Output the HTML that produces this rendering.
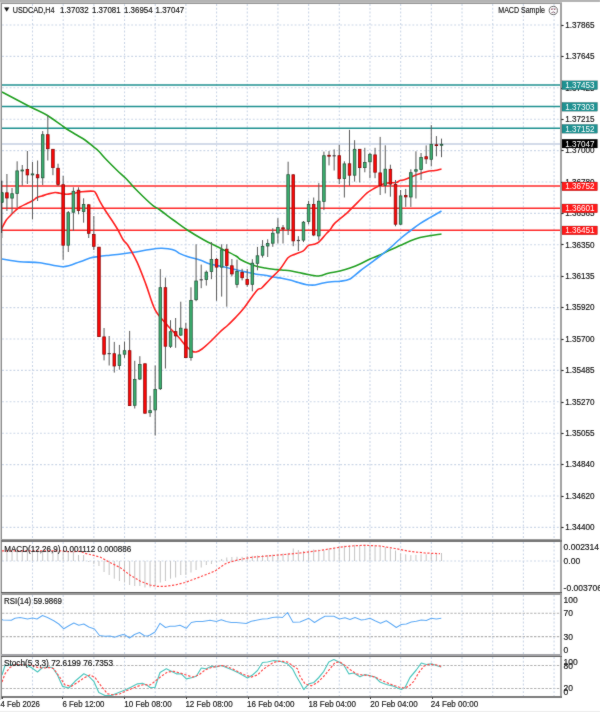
<!DOCTYPE html>
<html><head><meta charset="utf-8"><title>USDCAD,H4</title>
<style>html,body{margin:0;padding:0;background:#fff;width:600px;height:712px;overflow:hidden}</style>
</head><body>
<svg width="600" height="712" viewBox="0 0 600 712" style="display:block">
<rect x="0" y="0" width="600" height="712" fill="#ffffff"/>
<defs><filter id="soft" x="0" y="0" width="100%" height="100%" color-interpolation-filters="sRGB"><feConvolveMatrix order="3" kernelMatrix="0.0233 0.0467 0.0233 0.0467 0.7200 0.0467 0.0233 0.0467 0.0233" divisor="1" edgeMode="duplicate"/></filter></defs>
<g filter="url(#soft)">
<rect x="0" y="0" width="600" height="712" fill="#ffffff"/>
<g>
<line x1="2" y1="25.0" x2="561" y2="25.0" stroke="#cbd6e7" stroke-width="1.1" stroke-dasharray="1.9 1.9"/>
<line x1="2" y1="56.4" x2="561" y2="56.4" stroke="#cbd6e7" stroke-width="1.1" stroke-dasharray="1.9 1.9"/>
<line x1="2" y1="87.8" x2="561" y2="87.8" stroke="#cbd6e7" stroke-width="1.1" stroke-dasharray="1.9 1.9"/>
<line x1="2" y1="119.2" x2="561" y2="119.2" stroke="#cbd6e7" stroke-width="1.1" stroke-dasharray="1.9 1.9"/>
<line x1="2" y1="150.60000000000002" x2="561" y2="150.60000000000002" stroke="#cbd6e7" stroke-width="1.1" stroke-dasharray="1.9 1.9"/>
<line x1="2" y1="182.0" x2="561" y2="182.0" stroke="#cbd6e7" stroke-width="1.1" stroke-dasharray="1.9 1.9"/>
<line x1="2" y1="213.4" x2="561" y2="213.4" stroke="#cbd6e7" stroke-width="1.1" stroke-dasharray="1.9 1.9"/>
<line x1="2" y1="244.8" x2="561" y2="244.8" stroke="#cbd6e7" stroke-width="1.1" stroke-dasharray="1.9 1.9"/>
<line x1="2" y1="276.2" x2="561" y2="276.2" stroke="#cbd6e7" stroke-width="1.1" stroke-dasharray="1.9 1.9"/>
<line x1="2" y1="307.6" x2="561" y2="307.6" stroke="#cbd6e7" stroke-width="1.1" stroke-dasharray="1.9 1.9"/>
<line x1="2" y1="339.0" x2="561" y2="339.0" stroke="#cbd6e7" stroke-width="1.1" stroke-dasharray="1.9 1.9"/>
<line x1="2" y1="370.40000000000003" x2="561" y2="370.40000000000003" stroke="#cbd6e7" stroke-width="1.1" stroke-dasharray="1.9 1.9"/>
<line x1="2" y1="401.8" x2="561" y2="401.8" stroke="#cbd6e7" stroke-width="1.1" stroke-dasharray="1.9 1.9"/>
<line x1="2" y1="433.2" x2="561" y2="433.2" stroke="#cbd6e7" stroke-width="1.1" stroke-dasharray="1.9 1.9"/>
<line x1="2" y1="464.6" x2="561" y2="464.6" stroke="#cbd6e7" stroke-width="1.1" stroke-dasharray="1.9 1.9"/>
<line x1="2" y1="496.0" x2="561" y2="496.0" stroke="#cbd6e7" stroke-width="1.1" stroke-dasharray="1.9 1.9"/>
<line x1="2" y1="527.4" x2="561" y2="527.4" stroke="#cbd6e7" stroke-width="1.1" stroke-dasharray="1.9 1.9"/>
<line x1="2" y1="561" x2="561" y2="561" stroke="#cbd6e7" stroke-width="1.1" stroke-dasharray="1.9 1.9"/>
<line x1="2" y1="613.2" x2="561" y2="613.2" stroke="#b2b2b2" stroke-width="1.1" stroke-dasharray="2.4 1.4"/>
<line x1="2" y1="636.6" x2="561" y2="636.6" stroke="#b2b2b2" stroke-width="1.1" stroke-dasharray="2.4 1.4"/>
<line x1="2" y1="665.5" x2="561" y2="665.5" stroke="#b2b2b2" stroke-width="1.1" stroke-dasharray="2.4 1.4"/>
<line x1="2" y1="688.5" x2="561" y2="688.5" stroke="#b2b2b2" stroke-width="1.1" stroke-dasharray="2.4 1.4"/>
<line x1="32.5" y1="4" x2="32.5" y2="539" stroke="#cbd6e7" stroke-width="1.1" stroke-dasharray="1.9 1.9"/>
<line x1="32.5" y1="542" x2="32.5" y2="591" stroke="#cbd6e7" stroke-width="1.1" stroke-dasharray="1.9 1.9"/>
<line x1="32.5" y1="595" x2="32.5" y2="654" stroke="#cbd6e7" stroke-width="1.1" stroke-dasharray="1.9 1.9"/>
<line x1="32.5" y1="657" x2="32.5" y2="696" stroke="#cbd6e7" stroke-width="1.1" stroke-dasharray="1.9 1.9"/>
<line x1="63.18" y1="4" x2="63.18" y2="539" stroke="#cbd6e7" stroke-width="1.1" stroke-dasharray="1.9 1.9"/>
<line x1="63.18" y1="542" x2="63.18" y2="591" stroke="#cbd6e7" stroke-width="1.1" stroke-dasharray="1.9 1.9"/>
<line x1="63.18" y1="595" x2="63.18" y2="654" stroke="#cbd6e7" stroke-width="1.1" stroke-dasharray="1.9 1.9"/>
<line x1="63.18" y1="657" x2="63.18" y2="696" stroke="#cbd6e7" stroke-width="1.1" stroke-dasharray="1.9 1.9"/>
<line x1="93.86" y1="4" x2="93.86" y2="539" stroke="#cbd6e7" stroke-width="1.1" stroke-dasharray="1.9 1.9"/>
<line x1="93.86" y1="542" x2="93.86" y2="591" stroke="#cbd6e7" stroke-width="1.1" stroke-dasharray="1.9 1.9"/>
<line x1="93.86" y1="595" x2="93.86" y2="654" stroke="#cbd6e7" stroke-width="1.1" stroke-dasharray="1.9 1.9"/>
<line x1="93.86" y1="657" x2="93.86" y2="696" stroke="#cbd6e7" stroke-width="1.1" stroke-dasharray="1.9 1.9"/>
<line x1="124.53999999999999" y1="4" x2="124.53999999999999" y2="539" stroke="#cbd6e7" stroke-width="1.1" stroke-dasharray="1.9 1.9"/>
<line x1="124.53999999999999" y1="542" x2="124.53999999999999" y2="591" stroke="#cbd6e7" stroke-width="1.1" stroke-dasharray="1.9 1.9"/>
<line x1="124.53999999999999" y1="595" x2="124.53999999999999" y2="654" stroke="#cbd6e7" stroke-width="1.1" stroke-dasharray="1.9 1.9"/>
<line x1="124.53999999999999" y1="657" x2="124.53999999999999" y2="696" stroke="#cbd6e7" stroke-width="1.1" stroke-dasharray="1.9 1.9"/>
<line x1="155.22" y1="4" x2="155.22" y2="539" stroke="#cbd6e7" stroke-width="1.1" stroke-dasharray="1.9 1.9"/>
<line x1="155.22" y1="542" x2="155.22" y2="591" stroke="#cbd6e7" stroke-width="1.1" stroke-dasharray="1.9 1.9"/>
<line x1="155.22" y1="595" x2="155.22" y2="654" stroke="#cbd6e7" stroke-width="1.1" stroke-dasharray="1.9 1.9"/>
<line x1="155.22" y1="657" x2="155.22" y2="696" stroke="#cbd6e7" stroke-width="1.1" stroke-dasharray="1.9 1.9"/>
<line x1="185.9" y1="4" x2="185.9" y2="539" stroke="#cbd6e7" stroke-width="1.1" stroke-dasharray="1.9 1.9"/>
<line x1="185.9" y1="542" x2="185.9" y2="591" stroke="#cbd6e7" stroke-width="1.1" stroke-dasharray="1.9 1.9"/>
<line x1="185.9" y1="595" x2="185.9" y2="654" stroke="#cbd6e7" stroke-width="1.1" stroke-dasharray="1.9 1.9"/>
<line x1="185.9" y1="657" x2="185.9" y2="696" stroke="#cbd6e7" stroke-width="1.1" stroke-dasharray="1.9 1.9"/>
<line x1="216.57999999999998" y1="4" x2="216.57999999999998" y2="539" stroke="#cbd6e7" stroke-width="1.1" stroke-dasharray="1.9 1.9"/>
<line x1="216.57999999999998" y1="542" x2="216.57999999999998" y2="591" stroke="#cbd6e7" stroke-width="1.1" stroke-dasharray="1.9 1.9"/>
<line x1="216.57999999999998" y1="595" x2="216.57999999999998" y2="654" stroke="#cbd6e7" stroke-width="1.1" stroke-dasharray="1.9 1.9"/>
<line x1="216.57999999999998" y1="657" x2="216.57999999999998" y2="696" stroke="#cbd6e7" stroke-width="1.1" stroke-dasharray="1.9 1.9"/>
<line x1="247.26" y1="4" x2="247.26" y2="539" stroke="#cbd6e7" stroke-width="1.1" stroke-dasharray="1.9 1.9"/>
<line x1="247.26" y1="542" x2="247.26" y2="591" stroke="#cbd6e7" stroke-width="1.1" stroke-dasharray="1.9 1.9"/>
<line x1="247.26" y1="595" x2="247.26" y2="654" stroke="#cbd6e7" stroke-width="1.1" stroke-dasharray="1.9 1.9"/>
<line x1="247.26" y1="657" x2="247.26" y2="696" stroke="#cbd6e7" stroke-width="1.1" stroke-dasharray="1.9 1.9"/>
<line x1="277.94" y1="4" x2="277.94" y2="539" stroke="#cbd6e7" stroke-width="1.1" stroke-dasharray="1.9 1.9"/>
<line x1="277.94" y1="542" x2="277.94" y2="591" stroke="#cbd6e7" stroke-width="1.1" stroke-dasharray="1.9 1.9"/>
<line x1="277.94" y1="595" x2="277.94" y2="654" stroke="#cbd6e7" stroke-width="1.1" stroke-dasharray="1.9 1.9"/>
<line x1="277.94" y1="657" x2="277.94" y2="696" stroke="#cbd6e7" stroke-width="1.1" stroke-dasharray="1.9 1.9"/>
<line x1="308.62" y1="4" x2="308.62" y2="539" stroke="#cbd6e7" stroke-width="1.1" stroke-dasharray="1.9 1.9"/>
<line x1="308.62" y1="542" x2="308.62" y2="591" stroke="#cbd6e7" stroke-width="1.1" stroke-dasharray="1.9 1.9"/>
<line x1="308.62" y1="595" x2="308.62" y2="654" stroke="#cbd6e7" stroke-width="1.1" stroke-dasharray="1.9 1.9"/>
<line x1="308.62" y1="657" x2="308.62" y2="696" stroke="#cbd6e7" stroke-width="1.1" stroke-dasharray="1.9 1.9"/>
<line x1="339.3" y1="4" x2="339.3" y2="539" stroke="#cbd6e7" stroke-width="1.1" stroke-dasharray="1.9 1.9"/>
<line x1="339.3" y1="542" x2="339.3" y2="591" stroke="#cbd6e7" stroke-width="1.1" stroke-dasharray="1.9 1.9"/>
<line x1="339.3" y1="595" x2="339.3" y2="654" stroke="#cbd6e7" stroke-width="1.1" stroke-dasharray="1.9 1.9"/>
<line x1="339.3" y1="657" x2="339.3" y2="696" stroke="#cbd6e7" stroke-width="1.1" stroke-dasharray="1.9 1.9"/>
<line x1="369.98" y1="4" x2="369.98" y2="539" stroke="#cbd6e7" stroke-width="1.1" stroke-dasharray="1.9 1.9"/>
<line x1="369.98" y1="542" x2="369.98" y2="591" stroke="#cbd6e7" stroke-width="1.1" stroke-dasharray="1.9 1.9"/>
<line x1="369.98" y1="595" x2="369.98" y2="654" stroke="#cbd6e7" stroke-width="1.1" stroke-dasharray="1.9 1.9"/>
<line x1="369.98" y1="657" x2="369.98" y2="696" stroke="#cbd6e7" stroke-width="1.1" stroke-dasharray="1.9 1.9"/>
<line x1="400.65999999999997" y1="4" x2="400.65999999999997" y2="539" stroke="#cbd6e7" stroke-width="1.1" stroke-dasharray="1.9 1.9"/>
<line x1="400.65999999999997" y1="542" x2="400.65999999999997" y2="591" stroke="#cbd6e7" stroke-width="1.1" stroke-dasharray="1.9 1.9"/>
<line x1="400.65999999999997" y1="595" x2="400.65999999999997" y2="654" stroke="#cbd6e7" stroke-width="1.1" stroke-dasharray="1.9 1.9"/>
<line x1="400.65999999999997" y1="657" x2="400.65999999999997" y2="696" stroke="#cbd6e7" stroke-width="1.1" stroke-dasharray="1.9 1.9"/>
<line x1="431.34" y1="4" x2="431.34" y2="539" stroke="#cbd6e7" stroke-width="1.1" stroke-dasharray="1.9 1.9"/>
<line x1="431.34" y1="542" x2="431.34" y2="591" stroke="#cbd6e7" stroke-width="1.1" stroke-dasharray="1.9 1.9"/>
<line x1="431.34" y1="595" x2="431.34" y2="654" stroke="#cbd6e7" stroke-width="1.1" stroke-dasharray="1.9 1.9"/>
<line x1="431.34" y1="657" x2="431.34" y2="696" stroke="#cbd6e7" stroke-width="1.1" stroke-dasharray="1.9 1.9"/>
<line x1="462.02" y1="4" x2="462.02" y2="539" stroke="#cbd6e7" stroke-width="1.1" stroke-dasharray="1.9 1.9"/>
<line x1="462.02" y1="542" x2="462.02" y2="591" stroke="#cbd6e7" stroke-width="1.1" stroke-dasharray="1.9 1.9"/>
<line x1="462.02" y1="595" x2="462.02" y2="654" stroke="#cbd6e7" stroke-width="1.1" stroke-dasharray="1.9 1.9"/>
<line x1="462.02" y1="657" x2="462.02" y2="696" stroke="#cbd6e7" stroke-width="1.1" stroke-dasharray="1.9 1.9"/>
<line x1="492.7" y1="4" x2="492.7" y2="539" stroke="#cbd6e7" stroke-width="1.1" stroke-dasharray="1.9 1.9"/>
<line x1="492.7" y1="542" x2="492.7" y2="591" stroke="#cbd6e7" stroke-width="1.1" stroke-dasharray="1.9 1.9"/>
<line x1="492.7" y1="595" x2="492.7" y2="654" stroke="#cbd6e7" stroke-width="1.1" stroke-dasharray="1.9 1.9"/>
<line x1="492.7" y1="657" x2="492.7" y2="696" stroke="#cbd6e7" stroke-width="1.1" stroke-dasharray="1.9 1.9"/>
<line x1="523.38" y1="4" x2="523.38" y2="539" stroke="#cbd6e7" stroke-width="1.1" stroke-dasharray="1.9 1.9"/>
<line x1="523.38" y1="542" x2="523.38" y2="591" stroke="#cbd6e7" stroke-width="1.1" stroke-dasharray="1.9 1.9"/>
<line x1="523.38" y1="595" x2="523.38" y2="654" stroke="#cbd6e7" stroke-width="1.1" stroke-dasharray="1.9 1.9"/>
<line x1="523.38" y1="657" x2="523.38" y2="696" stroke="#cbd6e7" stroke-width="1.1" stroke-dasharray="1.9 1.9"/>
<line x1="554.06" y1="4" x2="554.06" y2="539" stroke="#cbd6e7" stroke-width="1.1" stroke-dasharray="1.9 1.9"/>
<line x1="554.06" y1="542" x2="554.06" y2="591" stroke="#cbd6e7" stroke-width="1.1" stroke-dasharray="1.9 1.9"/>
<line x1="554.06" y1="595" x2="554.06" y2="654" stroke="#cbd6e7" stroke-width="1.1" stroke-dasharray="1.9 1.9"/>
<line x1="554.06" y1="657" x2="554.06" y2="696" stroke="#cbd6e7" stroke-width="1.1" stroke-dasharray="1.9 1.9"/>
</g>
<line x1="2" y1="144" x2="561" y2="144" stroke="#d3dbe9" stroke-width="2"/>
<line x1="2" y1="85" x2="561" y2="85" stroke="#1f9191" stroke-width="1.6"/>
<line x1="2" y1="106.5" x2="561" y2="106.5" stroke="#1f9191" stroke-width="1.6"/>
<line x1="2" y1="128.3" x2="561" y2="128.3" stroke="#1f9191" stroke-width="1.6"/>
<line x1="2" y1="186" x2="561" y2="186" stroke="#ff2a2a" stroke-width="1.6"/>
<line x1="2" y1="208.2" x2="561" y2="208.2" stroke="#ff2a2a" stroke-width="1.6"/>
<line x1="2" y1="230.2" x2="561" y2="230.2" stroke="#ff2a2a" stroke-width="1.6"/>
<path d="M2.0,92.0 C6.7,94.5 22.6,102.9 30.0,106.7 C37.5,110.5 41.7,112.1 46.7,115.0 C51.7,117.9 56.4,121.7 60.0,124.2 C63.6,126.7 65.5,128.2 68.3,130.0 C71.1,131.8 73.9,133.3 76.7,135.0 C79.5,136.7 82.2,138.1 85.0,140.0 C87.8,141.9 91.1,144.9 93.3,146.7 C95.5,148.5 96.1,148.6 98.3,150.8 C100.5,153.0 103.6,156.8 106.7,160.0 C109.8,163.2 113.4,166.8 116.7,170.0 C120.0,173.2 123.9,176.4 126.7,179.2 C129.5,182.0 130.5,183.8 133.3,186.7 C136.1,189.6 140.0,193.5 143.3,196.7 C146.6,199.9 150.5,203.6 153.3,205.8 C156.1,208.0 156.7,207.6 160.0,210.0 C163.3,212.4 168.8,216.7 173.3,220.0 C177.9,223.3 182.2,226.7 187.3,230.0 C192.4,233.3 198.6,237.0 204.0,240.0 C209.4,243.0 214.7,245.3 220.0,248.0 C225.3,250.7 232.7,254.1 236.0,256.0 C239.3,257.9 237.9,258.0 240.0,259.2 C242.1,260.4 245.5,262.1 248.3,263.3 C251.1,264.5 253.9,265.5 256.7,266.3 C259.5,267.1 262.2,267.5 265.0,268.0 C267.8,268.5 270.5,268.9 273.3,269.2 C276.1,269.5 278.9,269.7 281.7,270.0 C284.5,270.3 287.2,270.4 290.0,270.8 C292.8,271.2 295.5,271.9 298.3,272.5 C301.1,273.1 303.9,273.6 306.7,274.2 C309.5,274.8 312.8,275.5 315.0,275.8 C317.2,276.1 317.8,276.2 320.0,275.8 C322.2,275.4 325.0,274.1 328.3,273.3 C331.6,272.5 336.4,271.9 340.0,271.0 C343.6,270.1 346.7,269.2 350.0,268.0 C353.3,266.8 356.7,265.5 360.0,264.0 C363.3,262.5 366.7,260.5 370.0,259.0 C373.3,257.5 376.7,256.5 380.0,255.0 C383.3,253.5 386.7,251.6 390.0,250.0 C393.3,248.4 396.7,247.1 400.0,245.6 C403.3,244.1 406.7,242.3 410.0,241.0 C413.3,239.7 416.7,238.5 420.0,237.6 C423.3,236.7 426.4,236.2 430.0,235.6 C433.6,235.0 439.6,234.3 441.5,234.0" fill="none" stroke="#23a023" stroke-width="1.6" stroke-linejoin="round"/>
<path d="M2.0,259.0 C5.0,259.4 13.7,261.1 20.0,261.7 C26.3,262.3 32.8,261.9 40.0,262.7 C47.2,263.5 56.6,266.9 63.3,266.7 C70.0,266.5 75.5,263.1 80.0,261.7 C84.5,260.2 86.9,258.9 90.0,258.0 C93.1,257.1 95.5,257.0 98.8,256.5 C102.1,256.0 106.5,255.6 110.0,255.2 C113.5,254.8 116.2,254.6 119.5,254.2 C122.8,253.8 126.6,253.3 130.0,252.8 C133.4,252.3 136.8,251.8 140.1,251.2 C143.4,250.6 146.6,250.0 150.0,249.5 C153.4,249.0 157.8,248.4 160.8,248.3 C163.8,248.2 165.6,248.4 168.0,248.8 C170.4,249.2 173.0,249.7 175.0,250.5 C177.0,251.3 177.9,252.6 180.0,253.6 C182.1,254.6 184.0,255.4 187.3,256.5 C190.6,257.6 196.2,258.8 200.0,260.0 C203.8,261.2 206.0,262.8 210.0,264.0 C214.0,265.2 219.0,265.9 224.0,267.0 C229.0,268.1 235.9,269.9 240.0,270.8 C244.1,271.7 245.5,271.9 248.3,272.5 C251.1,273.1 253.9,273.7 256.7,274.2 C259.5,274.7 262.2,274.8 265.0,275.3 C267.8,275.8 270.5,276.5 273.3,277.0 C276.1,277.5 278.9,277.8 281.7,278.3 C284.5,278.8 287.2,279.3 290.0,280.0 C292.8,280.7 295.5,281.7 298.3,282.5 C301.1,283.3 303.9,284.3 306.7,284.7 C309.5,285.1 312.2,285.3 315.0,285.0 C317.8,284.7 320.5,283.6 323.3,283.0 C326.1,282.4 328.9,282.0 331.7,281.7 C334.5,281.4 336.9,281.8 340.0,281.3 C343.1,280.9 346.7,280.7 350.0,279.0 C353.3,277.3 356.7,273.6 360.0,271.0 C363.3,268.4 366.7,266.1 370.0,263.6 C373.3,261.1 376.7,258.6 380.0,256.0 C383.3,253.4 386.7,250.8 390.0,248.0 C393.3,245.2 396.7,241.8 400.0,239.0 C403.3,236.2 406.7,233.6 410.0,231.0 C413.3,228.4 416.7,225.8 420.0,223.6 C423.3,221.4 426.4,219.7 430.0,217.6 C433.6,215.5 439.6,212.1 441.5,211.0" fill="none" stroke="#3b9bff" stroke-width="1.6" stroke-linejoin="round"/>
<path d="M1.5,229.0 C2.2,227.6 4.6,222.7 6.0,220.5 C7.4,218.3 8.5,217.6 10.0,216.0 C11.5,214.4 13.3,212.5 15.0,211.0 C16.7,209.5 18.0,208.2 20.0,207.0 C22.0,205.8 24.8,204.6 27.0,203.5 C29.2,202.4 31.3,201.5 33.0,200.5 C34.7,199.5 35.5,198.2 37.0,197.5 C38.5,196.8 40.2,196.6 42.0,196.0 C43.8,195.4 45.8,194.6 48.0,194.0 C50.2,193.4 53.0,192.6 55.0,192.5 C57.0,192.4 58.0,193.0 60.0,193.3 C62.0,193.6 64.5,194.2 66.7,194.2 C68.9,194.2 70.8,193.7 73.3,193.3 C75.8,192.9 78.4,192.0 81.7,191.7 C85.0,191.4 91.0,191.0 93.3,191.3 C95.6,191.6 94.7,191.6 95.8,193.3 C96.9,195.0 98.5,198.9 100.0,201.7 C101.5,204.5 103.0,206.9 105.0,210.0 C107.0,213.1 109.5,216.7 111.7,220.0 C113.9,223.3 116.1,226.7 118.0,230.0 C119.9,233.3 121.6,237.3 123.3,240.0 C125.0,242.7 126.0,242.3 128.3,246.0 C130.6,249.7 134.2,256.0 137.2,262.4 C140.1,268.8 143.0,276.7 146.0,284.6 C149.0,292.5 151.6,303.0 155.0,309.6 C158.4,316.2 162.8,319.8 166.7,324.4 C170.6,329.0 175.3,333.4 178.5,337.0 C181.7,340.6 183.8,343.7 186.0,346.0 C188.2,348.3 190.3,350.0 192.0,351.0 C193.7,352.0 194.3,352.3 196.0,352.0 C197.7,351.7 199.7,350.7 202.0,349.0 C204.3,347.3 207.0,344.8 210.0,342.0 C213.0,339.2 217.0,334.8 220.0,332.0 C223.0,329.2 225.3,327.5 228.0,325.0 C230.7,322.5 233.3,319.8 236.0,317.0 C238.7,314.2 241.1,311.7 244.0,308.0 C246.9,304.3 250.9,298.1 253.3,295.0 C255.7,291.9 256.9,290.4 258.3,289.2 C259.7,288.0 259.8,289.7 261.7,288.0 C263.6,286.3 266.9,282.3 270.0,279.2 C273.1,276.1 276.9,272.8 280.0,269.2 C283.1,265.6 285.8,260.0 288.3,257.5 C290.8,255.0 292.5,255.3 295.0,254.2 C297.5,253.1 301.1,252.2 303.3,250.8 C305.5,249.4 306.5,246.7 308.3,245.6 C310.1,244.5 312.0,245.0 313.9,244.3 C315.8,243.6 317.3,243.4 319.4,241.6 C321.5,239.8 324.9,235.2 326.7,233.3 C328.5,231.4 328.8,231.5 330.0,230.0 C331.2,228.5 332.1,226.2 334.0,224.1 C335.9,222.0 338.9,219.8 341.4,217.7 C343.8,215.6 346.9,213.0 348.7,211.3 C350.5,209.6 350.6,209.4 352.4,207.6 C354.2,205.8 357.2,202.8 359.7,200.3 C362.1,197.9 364.7,194.9 367.1,192.9 C369.6,190.9 372.3,189.5 374.4,188.3 C376.5,187.1 378.1,186.4 379.9,185.6 C381.7,184.8 383.6,183.7 385.4,183.2 C387.2,182.7 389.1,182.9 390.9,182.8 C392.7,182.7 394.9,182.9 396.4,182.5 C397.9,182.1 398.6,181.1 400.0,180.6 C401.4,180.1 402.3,180.4 405.0,179.5 C407.7,178.6 412.3,176.3 416.0,175.0 C419.7,173.7 423.8,172.2 427.0,171.5 C430.2,170.8 432.6,170.9 435.0,170.5 C437.4,170.1 440.4,169.2 441.5,169.0" fill="none" stroke="#ff2020" stroke-width="1.6" stroke-linejoin="round"/>
<line x1="1.80" y1="180.7" x2="1.80" y2="238.0" stroke="#5c5c5c" stroke-width="1"/>
<rect x="0.50" y="192.8" width="2.6" height="9.4" fill="#3cb070" stroke="#2a5a40" stroke-width="0.8"/>
<line x1="6.91" y1="174.0" x2="6.91" y2="211.0" stroke="#5c5c5c" stroke-width="1"/>
<rect x="5.61" y="192.8" width="2.6" height="5.2" fill="#ff0808" stroke="#8a0a0a" stroke-width="0.8"/>
<line x1="12.03" y1="188.0" x2="12.03" y2="213.5" stroke="#5c5c5c" stroke-width="1"/>
<rect x="10.73" y="193.7" width="2.6" height="4.4" fill="#3cb070" stroke="#2a5a40" stroke-width="0.8"/>
<line x1="17.14" y1="161.3" x2="17.14" y2="207.6" stroke="#5c5c5c" stroke-width="1"/>
<rect x="15.84" y="170.9" width="2.6" height="22.5" fill="#3cb070" stroke="#2a5a40" stroke-width="0.8"/>
<line x1="22.25" y1="165.0" x2="22.25" y2="185.7" stroke="#5c5c5c" stroke-width="1"/>
<rect x="20.95" y="170.0" width="2.6" height="1.0" fill="#3cb070" stroke="#2a5a40" stroke-width="0.8"/>
<line x1="27.37" y1="151.0" x2="27.37" y2="184.0" stroke="#5c5c5c" stroke-width="1"/>
<rect x="26.07" y="169.5" width="2.6" height="5.4" fill="#ff0808" stroke="#8a0a0a" stroke-width="0.8"/>
<line x1="32.48" y1="162.0" x2="32.48" y2="219.4" stroke="#5c5c5c" stroke-width="1"/>
<rect x="31.18" y="173.9" width="2.6" height="1.0" fill="#3cb070" stroke="#2a5a40" stroke-width="0.8"/>
<line x1="37.59" y1="160.5" x2="37.59" y2="201.0" stroke="#5c5c5c" stroke-width="1"/>
<rect x="36.29" y="174.7" width="2.6" height="3.1" fill="#ff0808" stroke="#8a0a0a" stroke-width="0.8"/>
<line x1="42.70" y1="131.1" x2="42.70" y2="185.0" stroke="#5c5c5c" stroke-width="1"/>
<rect x="41.40" y="134.7" width="2.6" height="43.1" fill="#3cb070" stroke="#2a5a40" stroke-width="0.8"/>
<line x1="47.82" y1="115.5" x2="47.82" y2="160.5" stroke="#5c5c5c" stroke-width="1"/>
<rect x="46.52" y="134.7" width="2.6" height="14.0" fill="#ff0808" stroke="#8a0a0a" stroke-width="0.8"/>
<line x1="52.93" y1="149.0" x2="52.93" y2="175.2" stroke="#5c5c5c" stroke-width="1"/>
<rect x="51.63" y="149.3" width="2.6" height="18.3" fill="#ff0808" stroke="#8a0a0a" stroke-width="0.8"/>
<line x1="58.04" y1="163.7" x2="58.04" y2="186.0" stroke="#5c5c5c" stroke-width="1"/>
<rect x="56.74" y="168.3" width="2.6" height="16.1" fill="#ff0808" stroke="#8a0a0a" stroke-width="0.8"/>
<line x1="63.16" y1="175.9" x2="63.16" y2="259.7" stroke="#5c5c5c" stroke-width="1"/>
<rect x="61.86" y="184.7" width="2.6" height="60.5" fill="#ff0808" stroke="#8a0a0a" stroke-width="0.8"/>
<line x1="68.27" y1="211.0" x2="68.27" y2="252.0" stroke="#5c5c5c" stroke-width="1"/>
<rect x="66.97" y="212.7" width="2.6" height="32.5" fill="#3cb070" stroke="#2a5a40" stroke-width="0.8"/>
<line x1="73.38" y1="187.3" x2="73.38" y2="230.8" stroke="#5c5c5c" stroke-width="1"/>
<rect x="72.08" y="191.3" width="2.6" height="20.9" fill="#3cb070" stroke="#2a5a40" stroke-width="0.8"/>
<line x1="78.50" y1="187.3" x2="78.50" y2="214.3" stroke="#5c5c5c" stroke-width="1"/>
<rect x="77.20" y="190.2" width="2.6" height="20.4" fill="#ff0808" stroke="#8a0a0a" stroke-width="0.8"/>
<line x1="83.61" y1="198.3" x2="83.61" y2="222.7" stroke="#5c5c5c" stroke-width="1"/>
<rect x="82.31" y="204.5" width="2.6" height="6.9" fill="#3cb070" stroke="#2a5a40" stroke-width="0.8"/>
<line x1="88.72" y1="204.2" x2="88.72" y2="238.0" stroke="#5c5c5c" stroke-width="1"/>
<rect x="87.42" y="204.8" width="2.6" height="28.5" fill="#ff0808" stroke="#8a0a0a" stroke-width="0.8"/>
<line x1="93.83" y1="216.0" x2="93.83" y2="250.0" stroke="#5c5c5c" stroke-width="1"/>
<rect x="92.53" y="234.5" width="2.6" height="11.8" fill="#ff0808" stroke="#8a0a0a" stroke-width="0.8"/>
<line x1="98.95" y1="246.9" x2="98.95" y2="337.0" stroke="#5c5c5c" stroke-width="1"/>
<rect x="97.65" y="247.2" width="2.6" height="89.4" fill="#ff0808" stroke="#8a0a0a" stroke-width="0.8"/>
<line x1="104.06" y1="328.0" x2="104.06" y2="360.4" stroke="#5c5c5c" stroke-width="1"/>
<rect x="102.76" y="336.9" width="2.6" height="17.3" fill="#ff0808" stroke="#8a0a0a" stroke-width="0.8"/>
<line x1="109.17" y1="336.0" x2="109.17" y2="365.5" stroke="#5c5c5c" stroke-width="1"/>
<line x1="107.57" y1="353.6" x2="110.77" y2="353.6" stroke="#444" stroke-width="1.2"/>
<line x1="114.29" y1="341.9" x2="114.29" y2="372.6" stroke="#5c5c5c" stroke-width="1"/>
<rect x="112.99" y="353.7" width="2.6" height="12.3" fill="#ff0808" stroke="#8a0a0a" stroke-width="0.8"/>
<line x1="119.40" y1="344.9" x2="119.40" y2="369.7" stroke="#5c5c5c" stroke-width="1"/>
<rect x="118.10" y="354.9" width="2.6" height="10.6" fill="#3cb070" stroke="#2a5a40" stroke-width="0.8"/>
<line x1="124.51" y1="341.5" x2="124.51" y2="357.9" stroke="#5c5c5c" stroke-width="1"/>
<rect x="123.21" y="350.7" width="2.6" height="3.5" fill="#3cb070" stroke="#2a5a40" stroke-width="0.8"/>
<line x1="129.63" y1="330.9" x2="129.63" y2="406.0" stroke="#5c5c5c" stroke-width="1"/>
<rect x="128.33" y="350.7" width="2.6" height="54.9" fill="#ff0808" stroke="#8a0a0a" stroke-width="0.8"/>
<line x1="134.74" y1="360.8" x2="134.74" y2="408.5" stroke="#5c5c5c" stroke-width="1"/>
<rect x="133.44" y="379.4" width="2.6" height="25.9" fill="#3cb070" stroke="#2a5a40" stroke-width="0.8"/>
<line x1="139.85" y1="356.2" x2="139.85" y2="380.0" stroke="#5c5c5c" stroke-width="1"/>
<rect x="138.55" y="364.5" width="2.6" height="14.5" fill="#3cb070" stroke="#2a5a40" stroke-width="0.8"/>
<line x1="144.96" y1="363.4" x2="144.96" y2="413.5" stroke="#5c5c5c" stroke-width="1"/>
<rect x="143.66" y="363.8" width="2.6" height="49.4" fill="#ff0808" stroke="#8a0a0a" stroke-width="0.8"/>
<line x1="150.08" y1="395.8" x2="150.08" y2="416.9" stroke="#5c5c5c" stroke-width="1"/>
<rect x="148.78" y="410.6" width="2.6" height="2.1" fill="#3cb070" stroke="#2a5a40" stroke-width="0.8"/>
<line x1="155.19" y1="365.5" x2="155.19" y2="435.5" stroke="#5c5c5c" stroke-width="1"/>
<rect x="153.89" y="389.4" width="2.6" height="20.5" fill="#3cb070" stroke="#2a5a40" stroke-width="0.8"/>
<line x1="160.30" y1="269.1" x2="160.30" y2="390.0" stroke="#5c5c5c" stroke-width="1"/>
<rect x="159.00" y="287.7" width="2.6" height="101.0" fill="#3cb070" stroke="#2a5a40" stroke-width="0.8"/>
<line x1="165.42" y1="277.6" x2="165.42" y2="368.5" stroke="#5c5c5c" stroke-width="1"/>
<rect x="164.12" y="287.7" width="2.6" height="58.5" fill="#ff0808" stroke="#8a0a0a" stroke-width="0.8"/>
<line x1="170.53" y1="320.2" x2="170.53" y2="348.0" stroke="#5c5c5c" stroke-width="1"/>
<rect x="169.23" y="331.7" width="2.6" height="14.6" fill="#3cb070" stroke="#2a5a40" stroke-width="0.8"/>
<line x1="175.64" y1="318.0" x2="175.64" y2="347.8" stroke="#5c5c5c" stroke-width="1"/>
<rect x="174.34" y="331.6" width="2.6" height="4.3" fill="#ff0808" stroke="#8a0a0a" stroke-width="0.8"/>
<line x1="180.76" y1="301.7" x2="180.76" y2="336.0" stroke="#5c5c5c" stroke-width="1"/>
<rect x="179.46" y="328.2" width="2.6" height="6.9" fill="#3cb070" stroke="#2a5a40" stroke-width="0.8"/>
<line x1="185.87" y1="322.7" x2="185.87" y2="358.0" stroke="#5c5c5c" stroke-width="1"/>
<rect x="184.57" y="329.1" width="2.6" height="28.5" fill="#ff0808" stroke="#8a0a0a" stroke-width="0.8"/>
<line x1="190.98" y1="287.3" x2="190.98" y2="360.7" stroke="#5c5c5c" stroke-width="1"/>
<rect x="189.68" y="300.4" width="2.6" height="57.2" fill="#3cb070" stroke="#2a5a40" stroke-width="0.8"/>
<line x1="196.09" y1="244.3" x2="196.09" y2="301.2" stroke="#5c5c5c" stroke-width="1"/>
<rect x="194.79" y="281.0" width="2.6" height="18.7" fill="#3cb070" stroke="#2a5a40" stroke-width="0.8"/>
<line x1="201.21" y1="264.6" x2="201.21" y2="288.2" stroke="#5c5c5c" stroke-width="1"/>
<line x1="199.61" y1="279.8" x2="202.81" y2="279.8" stroke="#444" stroke-width="1.2"/>
<line x1="206.32" y1="270.5" x2="206.32" y2="285.6" stroke="#5c5c5c" stroke-width="1"/>
<rect x="205.02" y="272.2" width="2.6" height="7.2" fill="#3cb070" stroke="#2a5a40" stroke-width="0.8"/>
<line x1="211.43" y1="242.1" x2="211.43" y2="279.2" stroke="#5c5c5c" stroke-width="1"/>
<rect x="210.13" y="259.4" width="2.6" height="12.1" fill="#3cb070" stroke="#2a5a40" stroke-width="0.8"/>
<line x1="216.55" y1="257.8" x2="216.55" y2="300.8" stroke="#5c5c5c" stroke-width="1"/>
<rect x="215.25" y="259.4" width="2.6" height="7.7" fill="#ff0808" stroke="#8a0a0a" stroke-width="0.8"/>
<line x1="221.66" y1="244.3" x2="221.66" y2="296.6" stroke="#5c5c5c" stroke-width="1"/>
<rect x="220.36" y="249.8" width="2.6" height="17.3" fill="#3cb070" stroke="#2a5a40" stroke-width="0.8"/>
<line x1="226.77" y1="244.3" x2="226.77" y2="306.7" stroke="#5c5c5c" stroke-width="1"/>
<rect x="225.47" y="249.2" width="2.6" height="16.2" fill="#ff0808" stroke="#8a0a0a" stroke-width="0.8"/>
<line x1="231.89" y1="259.0" x2="231.89" y2="276.4" stroke="#5c5c5c" stroke-width="1"/>
<rect x="230.59" y="265.8" width="2.6" height="8.1" fill="#ff0808" stroke="#8a0a0a" stroke-width="0.8"/>
<line x1="237.00" y1="259.6" x2="237.00" y2="287.7" stroke="#5c5c5c" stroke-width="1"/>
<rect x="235.70" y="271.4" width="2.6" height="13.0" fill="#3cb070" stroke="#2a5a40" stroke-width="0.8"/>
<line x1="242.11" y1="268.8" x2="242.11" y2="280.4" stroke="#5c5c5c" stroke-width="1"/>
<rect x="240.81" y="272.4" width="2.6" height="5.3" fill="#ff0808" stroke="#8a0a0a" stroke-width="0.8"/>
<line x1="247.22" y1="268.9" x2="247.22" y2="286.7" stroke="#5c5c5c" stroke-width="1"/>
<rect x="245.92" y="279.4" width="2.6" height="5.0" fill="#ff0808" stroke="#8a0a0a" stroke-width="0.8"/>
<line x1="252.34" y1="259.2" x2="252.34" y2="291.3" stroke="#5c5c5c" stroke-width="1"/>
<rect x="251.04" y="263.2" width="2.6" height="21.1" fill="#3cb070" stroke="#2a5a40" stroke-width="0.8"/>
<line x1="257.45" y1="246.9" x2="257.45" y2="270.3" stroke="#5c5c5c" stroke-width="1"/>
<rect x="256.15" y="255.8" width="2.6" height="7.5" fill="#3cb070" stroke="#2a5a40" stroke-width="0.8"/>
<line x1="262.56" y1="240.1" x2="262.56" y2="257.6" stroke="#5c5c5c" stroke-width="1"/>
<rect x="261.26" y="246.3" width="2.6" height="8.9" fill="#3cb070" stroke="#2a5a40" stroke-width="0.8"/>
<line x1="267.68" y1="239.3" x2="267.68" y2="257.0" stroke="#5c5c5c" stroke-width="1"/>
<rect x="266.38" y="243.4" width="2.6" height="2.6" fill="#3cb070" stroke="#2a5a40" stroke-width="0.8"/>
<line x1="272.79" y1="228.3" x2="272.79" y2="246.8" stroke="#5c5c5c" stroke-width="1"/>
<rect x="271.49" y="233.2" width="2.6" height="10.0" fill="#3cb070" stroke="#2a5a40" stroke-width="0.8"/>
<line x1="277.90" y1="218.2" x2="277.90" y2="243.5" stroke="#5c5c5c" stroke-width="1"/>
<rect x="276.60" y="227.4" width="2.6" height="5.6" fill="#3cb070" stroke="#2a5a40" stroke-width="0.8"/>
<line x1="283.02" y1="225.0" x2="283.02" y2="243.5" stroke="#5c5c5c" stroke-width="1"/>
<rect x="281.72" y="227.8" width="2.6" height="1.3" fill="#ff0808" stroke="#8a0a0a" stroke-width="0.8"/>
<line x1="288.13" y1="161.7" x2="288.13" y2="235.0" stroke="#5c5c5c" stroke-width="1"/>
<rect x="286.83" y="174.7" width="2.6" height="54.5" fill="#3cb070" stroke="#2a5a40" stroke-width="0.8"/>
<line x1="293.24" y1="174.3" x2="293.24" y2="246.2" stroke="#5c5c5c" stroke-width="1"/>
<rect x="291.94" y="174.8" width="2.6" height="66.1" fill="#ff0808" stroke="#8a0a0a" stroke-width="0.8"/>
<line x1="298.35" y1="236.2" x2="298.35" y2="251.0" stroke="#5c5c5c" stroke-width="1"/>
<line x1="296.75" y1="240.5" x2="299.95" y2="240.5" stroke="#444" stroke-width="1.2"/>
<line x1="303.47" y1="221.0" x2="303.47" y2="242.1" stroke="#5c5c5c" stroke-width="1"/>
<rect x="302.17" y="222.2" width="2.6" height="17.9" fill="#3cb070" stroke="#2a5a40" stroke-width="0.8"/>
<line x1="308.58" y1="200.8" x2="308.58" y2="224.4" stroke="#5c5c5c" stroke-width="1"/>
<rect x="307.28" y="204.5" width="2.6" height="17.0" fill="#3cb070" stroke="#2a5a40" stroke-width="0.8"/>
<line x1="313.69" y1="197.5" x2="313.69" y2="236.2" stroke="#5c5c5c" stroke-width="1"/>
<rect x="312.39" y="204.5" width="2.6" height="30.5" fill="#ff0808" stroke="#8a0a0a" stroke-width="0.8"/>
<line x1="318.81" y1="183.1" x2="318.81" y2="240.5" stroke="#5c5c5c" stroke-width="1"/>
<rect x="317.51" y="201.2" width="2.6" height="34.7" fill="#3cb070" stroke="#2a5a40" stroke-width="0.8"/>
<line x1="323.92" y1="151.6" x2="323.92" y2="210.1" stroke="#5c5c5c" stroke-width="1"/>
<rect x="322.62" y="155.7" width="2.6" height="45.7" fill="#3cb070" stroke="#2a5a40" stroke-width="0.8"/>
<line x1="329.03" y1="151.1" x2="329.03" y2="165.4" stroke="#5c5c5c" stroke-width="1"/>
<rect x="327.73" y="155.3" width="2.6" height="0.9" fill="#ff0808" stroke="#8a0a0a" stroke-width="0.8"/>
<line x1="334.15" y1="149.4" x2="334.15" y2="170.5" stroke="#5c5c5c" stroke-width="1"/>
<line x1="332.55" y1="155.8" x2="335.75" y2="155.8" stroke="#444" stroke-width="1.2"/>
<line x1="339.26" y1="144.8" x2="339.26" y2="184.0" stroke="#5c5c5c" stroke-width="1"/>
<rect x="337.96" y="155.7" width="2.6" height="23.0" fill="#ff0808" stroke="#8a0a0a" stroke-width="0.8"/>
<line x1="344.37" y1="161.3" x2="344.37" y2="197.5" stroke="#5c5c5c" stroke-width="1"/>
<rect x="343.07" y="163.9" width="2.6" height="14.7" fill="#3cb070" stroke="#2a5a40" stroke-width="0.8"/>
<line x1="349.48" y1="129.8" x2="349.48" y2="185.8" stroke="#5c5c5c" stroke-width="1"/>
<rect x="348.18" y="163.8" width="2.6" height="11.4" fill="#ff0808" stroke="#8a0a0a" stroke-width="0.8"/>
<line x1="354.60" y1="140.2" x2="354.60" y2="181.6" stroke="#5c5c5c" stroke-width="1"/>
<rect x="353.30" y="149.3" width="2.6" height="25.9" fill="#3cb070" stroke="#2a5a40" stroke-width="0.8"/>
<line x1="359.71" y1="149.0" x2="359.71" y2="182.4" stroke="#5c5c5c" stroke-width="1"/>
<rect x="358.41" y="149.3" width="2.6" height="18.3" fill="#ff0808" stroke="#8a0a0a" stroke-width="0.8"/>
<line x1="364.82" y1="147.8" x2="364.82" y2="172.3" stroke="#5c5c5c" stroke-width="1"/>
<rect x="363.52" y="162.5" width="2.6" height="5.1" fill="#3cb070" stroke="#2a5a40" stroke-width="0.8"/>
<line x1="369.94" y1="152.9" x2="369.94" y2="178.2" stroke="#5c5c5c" stroke-width="1"/>
<rect x="368.64" y="154.3" width="2.6" height="7.5" fill="#3cb070" stroke="#2a5a40" stroke-width="0.8"/>
<line x1="375.05" y1="147.8" x2="375.05" y2="178.2" stroke="#5c5c5c" stroke-width="1"/>
<rect x="373.75" y="154.9" width="2.6" height="17.3" fill="#ff0808" stroke="#8a0a0a" stroke-width="0.8"/>
<line x1="380.16" y1="136.9" x2="380.16" y2="195.0" stroke="#5c5c5c" stroke-width="1"/>
<rect x="378.86" y="172.9" width="2.6" height="12.5" fill="#ff0808" stroke="#8a0a0a" stroke-width="0.8"/>
<line x1="385.28" y1="145.3" x2="385.28" y2="193.4" stroke="#5c5c5c" stroke-width="1"/>
<rect x="383.98" y="169.2" width="2.6" height="16.2" fill="#3cb070" stroke="#2a5a40" stroke-width="0.8"/>
<line x1="390.39" y1="164.7" x2="390.39" y2="196.7" stroke="#5c5c5c" stroke-width="1"/>
<rect x="389.09" y="169.3" width="2.6" height="14.8" fill="#ff0808" stroke="#8a0a0a" stroke-width="0.8"/>
<line x1="395.50" y1="180.0" x2="395.50" y2="226.3" stroke="#5c5c5c" stroke-width="1"/>
<rect x="394.20" y="184.4" width="2.6" height="39.8" fill="#ff0808" stroke="#8a0a0a" stroke-width="0.8"/>
<line x1="400.61" y1="190.0" x2="400.61" y2="225.0" stroke="#5c5c5c" stroke-width="1"/>
<rect x="399.31" y="195.9" width="2.6" height="28.3" fill="#3cb070" stroke="#2a5a40" stroke-width="0.8"/>
<line x1="405.73" y1="188.9" x2="405.73" y2="206.9" stroke="#5c5c5c" stroke-width="1"/>
<rect x="404.43" y="195.4" width="2.6" height="1.5" fill="#ff0808" stroke="#8a0a0a" stroke-width="0.8"/>
<line x1="410.84" y1="169.3" x2="410.84" y2="206.9" stroke="#5c5c5c" stroke-width="1"/>
<rect x="409.54" y="172.7" width="2.6" height="24.3" fill="#3cb070" stroke="#2a5a40" stroke-width="0.8"/>
<line x1="415.95" y1="151.3" x2="415.95" y2="198.5" stroke="#5c5c5c" stroke-width="1"/>
<rect x="414.65" y="169.7" width="2.6" height="1.5" fill="#3cb070" stroke="#2a5a40" stroke-width="0.8"/>
<line x1="421.07" y1="153.0" x2="421.07" y2="180.0" stroke="#5c5c5c" stroke-width="1"/>
<rect x="419.77" y="157.5" width="2.6" height="11.9" fill="#3cb070" stroke="#2a5a40" stroke-width="0.8"/>
<line x1="426.18" y1="145.4" x2="426.18" y2="163.9" stroke="#5c5c5c" stroke-width="1"/>
<rect x="424.88" y="156.7" width="2.6" height="2.2" fill="#ff0808" stroke="#8a0a0a" stroke-width="0.8"/>
<line x1="431.29" y1="125.1" x2="431.29" y2="166.4" stroke="#5c5c5c" stroke-width="1"/>
<rect x="429.99" y="144.3" width="2.6" height="15.0" fill="#3cb070" stroke="#2a5a40" stroke-width="0.8"/>
<line x1="436.41" y1="136.1" x2="436.41" y2="156.3" stroke="#5c5c5c" stroke-width="1"/>
<rect x="435.11" y="144.8" width="2.6" height="0.8" fill="#ff0808" stroke="#8a0a0a" stroke-width="0.8"/>
<line x1="441.52" y1="138.6" x2="441.52" y2="157.2" stroke="#5c5c5c" stroke-width="1"/>
<rect x="440.22" y="144.3" width="2.6" height="1.0" fill="#3cb070" stroke="#2a5a40" stroke-width="0.8"/>
<line x1="1.80" y1="551" x2="1.80" y2="561" stroke="#c4c4c4" stroke-width="1"/>
<line x1="6.91" y1="551" x2="6.91" y2="561" stroke="#c4c4c4" stroke-width="1"/>
<line x1="12.03" y1="551" x2="12.03" y2="561" stroke="#c4c4c4" stroke-width="1"/>
<line x1="17.14" y1="551" x2="17.14" y2="561" stroke="#c4c4c4" stroke-width="1"/>
<line x1="22.25" y1="551" x2="22.25" y2="561" stroke="#c4c4c4" stroke-width="1"/>
<line x1="27.37" y1="551" x2="27.37" y2="561" stroke="#c4c4c4" stroke-width="1"/>
<line x1="32.48" y1="551" x2="32.48" y2="561" stroke="#c4c4c4" stroke-width="1"/>
<line x1="37.59" y1="551" x2="37.59" y2="561" stroke="#c4c4c4" stroke-width="1"/>
<line x1="42.70" y1="551" x2="42.70" y2="561" stroke="#c4c4c4" stroke-width="1"/>
<line x1="47.82" y1="551" x2="47.82" y2="561" stroke="#c4c4c4" stroke-width="1"/>
<line x1="52.93" y1="551" x2="52.93" y2="561" stroke="#c4c4c4" stroke-width="1"/>
<line x1="58.04" y1="551" x2="58.04" y2="561" stroke="#c4c4c4" stroke-width="1"/>
<line x1="63.16" y1="551" x2="63.16" y2="561" stroke="#c4c4c4" stroke-width="1"/>
<line x1="68.27" y1="551" x2="68.27" y2="561" stroke="#c4c4c4" stroke-width="1"/>
<line x1="73.38" y1="552" x2="73.38" y2="561" stroke="#c4c4c4" stroke-width="1"/>
<line x1="78.50" y1="555" x2="78.50" y2="561" stroke="#c4c4c4" stroke-width="1"/>
<line x1="83.61" y1="555" x2="83.61" y2="561" stroke="#c4c4c4" stroke-width="1"/>
<line x1="88.72" y1="561" x2="88.72" y2="562" stroke="#c4c4c4" stroke-width="1"/>
<line x1="93.83" y1="561" x2="93.83" y2="564" stroke="#c4c4c4" stroke-width="1"/>
<line x1="98.95" y1="561" x2="98.95" y2="566" stroke="#c4c4c4" stroke-width="1"/>
<line x1="104.06" y1="561" x2="104.06" y2="572" stroke="#c4c4c4" stroke-width="1"/>
<line x1="109.17" y1="561" x2="109.17" y2="575" stroke="#c4c4c4" stroke-width="1"/>
<line x1="114.29" y1="561" x2="114.29" y2="578.7" stroke="#c4c4c4" stroke-width="1"/>
<line x1="119.40" y1="561" x2="119.40" y2="581" stroke="#c4c4c4" stroke-width="1"/>
<line x1="124.51" y1="561" x2="124.51" y2="582.5" stroke="#c4c4c4" stroke-width="1"/>
<line x1="129.63" y1="561" x2="129.63" y2="585" stroke="#c4c4c4" stroke-width="1"/>
<line x1="134.74" y1="561" x2="134.74" y2="586" stroke="#c4c4c4" stroke-width="1"/>
<line x1="139.85" y1="561" x2="139.85" y2="586" stroke="#c4c4c4" stroke-width="1"/>
<line x1="144.96" y1="561" x2="144.96" y2="587.5" stroke="#c4c4c4" stroke-width="1"/>
<line x1="150.08" y1="561" x2="150.08" y2="587.5" stroke="#c4c4c4" stroke-width="1"/>
<line x1="155.19" y1="561" x2="155.19" y2="586" stroke="#c4c4c4" stroke-width="1"/>
<line x1="160.30" y1="561" x2="160.30" y2="582.5" stroke="#c4c4c4" stroke-width="1"/>
<line x1="165.42" y1="561" x2="165.42" y2="581" stroke="#c4c4c4" stroke-width="1"/>
<line x1="170.53" y1="561" x2="170.53" y2="578.7" stroke="#c4c4c4" stroke-width="1"/>
<line x1="175.64" y1="561" x2="175.64" y2="577.5" stroke="#c4c4c4" stroke-width="1"/>
<line x1="180.76" y1="561" x2="180.76" y2="575" stroke="#c4c4c4" stroke-width="1"/>
<line x1="185.87" y1="561" x2="185.87" y2="575" stroke="#c4c4c4" stroke-width="1"/>
<line x1="190.98" y1="561" x2="190.98" y2="572.5" stroke="#c4c4c4" stroke-width="1"/>
<line x1="196.09" y1="561" x2="196.09" y2="570" stroke="#c4c4c4" stroke-width="1"/>
<line x1="201.21" y1="561" x2="201.21" y2="567.5" stroke="#c4c4c4" stroke-width="1"/>
<line x1="206.32" y1="561" x2="206.32" y2="565" stroke="#c4c4c4" stroke-width="1"/>
<line x1="211.43" y1="561" x2="211.43" y2="564" stroke="#c4c4c4" stroke-width="1"/>
<line x1="216.55" y1="561" x2="216.55" y2="562" stroke="#c4c4c4" stroke-width="1"/>
<line x1="221.66" y1="559" x2="221.66" y2="561" stroke="#c4c4c4" stroke-width="1"/>
<line x1="226.77" y1="557.5" x2="226.77" y2="561" stroke="#c4c4c4" stroke-width="1"/>
<line x1="231.89" y1="557" x2="231.89" y2="561" stroke="#c4c4c4" stroke-width="1"/>
<line x1="237.00" y1="556.8" x2="237.00" y2="561" stroke="#c4c4c4" stroke-width="1"/>
<line x1="242.11" y1="556.8" x2="242.11" y2="561" stroke="#c4c4c4" stroke-width="1"/>
<line x1="247.22" y1="556" x2="247.22" y2="561" stroke="#c4c4c4" stroke-width="1"/>
<line x1="252.34" y1="555.8" x2="252.34" y2="561" stroke="#c4c4c4" stroke-width="1"/>
<line x1="257.45" y1="555.5" x2="257.45" y2="561" stroke="#c4c4c4" stroke-width="1"/>
<line x1="262.56" y1="555" x2="262.56" y2="561" stroke="#c4c4c4" stroke-width="1"/>
<line x1="267.68" y1="555" x2="267.68" y2="561" stroke="#c4c4c4" stroke-width="1"/>
<line x1="272.79" y1="554.5" x2="272.79" y2="561" stroke="#c4c4c4" stroke-width="1"/>
<line x1="277.90" y1="554" x2="277.90" y2="561" stroke="#c4c4c4" stroke-width="1"/>
<line x1="283.02" y1="553.5" x2="283.02" y2="561" stroke="#c4c4c4" stroke-width="1"/>
<line x1="288.13" y1="553.3" x2="288.13" y2="561" stroke="#c4c4c4" stroke-width="1"/>
<line x1="293.24" y1="548.5" x2="293.24" y2="561" stroke="#c4c4c4" stroke-width="1"/>
<line x1="298.35" y1="550" x2="298.35" y2="561" stroke="#c4c4c4" stroke-width="1"/>
<line x1="303.47" y1="551" x2="303.47" y2="561" stroke="#c4c4c4" stroke-width="1"/>
<line x1="308.58" y1="551.5" x2="308.58" y2="561" stroke="#c4c4c4" stroke-width="1"/>
<line x1="313.69" y1="549.5" x2="313.69" y2="561" stroke="#c4c4c4" stroke-width="1"/>
<line x1="318.81" y1="549.5" x2="318.81" y2="561" stroke="#c4c4c4" stroke-width="1"/>
<line x1="323.92" y1="550.5" x2="323.92" y2="561" stroke="#c4c4c4" stroke-width="1"/>
<line x1="329.03" y1="548.5" x2="329.03" y2="561" stroke="#c4c4c4" stroke-width="1"/>
<line x1="334.15" y1="547.6" x2="334.15" y2="561" stroke="#c4c4c4" stroke-width="1"/>
<line x1="339.26" y1="546" x2="339.26" y2="561" stroke="#c4c4c4" stroke-width="1"/>
<line x1="344.37" y1="545.7" x2="344.37" y2="561" stroke="#c4c4c4" stroke-width="1"/>
<line x1="349.48" y1="545.3" x2="349.48" y2="561" stroke="#c4c4c4" stroke-width="1"/>
<line x1="354.60" y1="544.9" x2="354.60" y2="561" stroke="#c4c4c4" stroke-width="1"/>
<line x1="359.71" y1="545.3" x2="359.71" y2="561" stroke="#c4c4c4" stroke-width="1"/>
<line x1="364.82" y1="544.7" x2="364.82" y2="561" stroke="#c4c4c4" stroke-width="1"/>
<line x1="369.94" y1="544.9" x2="369.94" y2="561" stroke="#c4c4c4" stroke-width="1"/>
<line x1="375.05" y1="545.3" x2="375.05" y2="561" stroke="#c4c4c4" stroke-width="1"/>
<line x1="380.16" y1="545.7" x2="380.16" y2="561" stroke="#c4c4c4" stroke-width="1"/>
<line x1="385.28" y1="547" x2="385.28" y2="561" stroke="#c4c4c4" stroke-width="1"/>
<line x1="390.39" y1="548.5" x2="390.39" y2="561" stroke="#c4c4c4" stroke-width="1"/>
<line x1="395.50" y1="550.5" x2="395.50" y2="561" stroke="#c4c4c4" stroke-width="1"/>
<line x1="400.61" y1="553.3" x2="400.61" y2="561" stroke="#c4c4c4" stroke-width="1"/>
<line x1="405.73" y1="554.3" x2="405.73" y2="561" stroke="#c4c4c4" stroke-width="1"/>
<line x1="410.84" y1="555.2" x2="410.84" y2="561" stroke="#c4c4c4" stroke-width="1"/>
<line x1="415.95" y1="554.8" x2="415.95" y2="561" stroke="#c4c4c4" stroke-width="1"/>
<line x1="421.07" y1="554.3" x2="421.07" y2="561" stroke="#c4c4c4" stroke-width="1"/>
<line x1="426.18" y1="554.3" x2="426.18" y2="561" stroke="#c4c4c4" stroke-width="1"/>
<line x1="431.29" y1="553.3" x2="431.29" y2="561" stroke="#c4c4c4" stroke-width="1"/>
<line x1="436.41" y1="554.3" x2="436.41" y2="561" stroke="#c4c4c4" stroke-width="1"/>
<line x1="441.52" y1="553" x2="441.52" y2="561" stroke="#c4c4c4" stroke-width="1"/>
<polyline points="2.0,550.8 60.0,550.8 70.0,551.7 80.0,551.3 85.0,553.3 100.0,557.0 110.0,562.5 120.0,567.5 130.0,575.0 140.0,581.0 150.0,585.0 157.0,586.3 165.0,586.3 175.0,585.0 185.0,582.5 195.0,578.8 205.0,575.0 215.0,571.0 225.0,564.0 230.0,562.0 240.0,559.5 250.0,557.5 260.0,556.6 280.0,554.9 300.0,553.0 320.0,550.5 335.0,548.0 345.0,546.6 355.0,545.7 365.0,545.3 380.0,546.0 395.0,548.5 410.0,551.4 425.0,553.0 440.0,553.7" fill="none" stroke="#ff4a4a" stroke-width="1.2" stroke-dasharray="2.2 1.6"/>
<polyline points="2.0,619.5 3.0,620.0 11.3,620.3 15.0,618.3 20.0,617.5 25.0,618.5 27.5,619.0 32.5,618.0 37.0,619.0 42.5,615.5 47.5,617.5 53.8,620.8 58.8,624.0 63.8,628.8 68.8,625.8 73.8,623.0 78.8,625.3 83.8,624.0 88.8,627.0 94.5,629.0 99.5,635.5 105.0,636.3 110.0,636.0 114.5,637.3 118.8,635.8 123.0,634.5 125.0,635.0 129.5,638.0 134.5,634.5 139.5,632.5 144.5,635.8 147.5,636.0 150.0,635.0 155.0,632.0 160.0,623.3 165.5,627.5 170.0,626.3 175.0,626.3 180.0,625.3 186.3,628.3 191.3,622.5 196.3,621.5 202.5,621.5 210.0,620.3 216.3,621.5 221.3,619.8 226.3,621.5 231.3,622.5 236.3,622.5 241.3,623.0 246.3,623.5 251.3,621.3 257.5,620.0 262.5,619.0 267.5,618.8 272.5,617.5 277.5,617.0 282.5,617.5 287.5,612.5 293.0,622.3 300.0,622.0 308.8,618.3 314.5,622.5 320.0,619.0 325.0,616.3 333.8,616.3 339.5,619.0 345.0,617.8 350.0,619.5 355.0,617.5 361.3,620.0 365.0,619.5 370.0,618.3 375.0,620.8 380.5,623.3 386.3,620.8 391.3,624.0 396.3,627.5 401.3,624.5 406.3,624.0 411.3,622.0 416.3,621.3 421.3,620.0 426.3,620.5 431.3,618.3 436.3,619.0 441.3,618.3" fill="none" stroke="#62acf5" stroke-width="1.05" stroke-linejoin="round"/>
<polyline points="2.0,675.0 5.0,665.5 10.0,665.0 15.0,664.5 20.0,665.0 25.0,664.5 31.3,667.5 37.5,672.0 42.5,667.5 47.5,667.0 52.5,667.5 57.5,675.0 62.5,686.3 68.8,688.0 75.0,681.3 83.8,673.8 88.8,676.3 93.8,681.3 98.8,692.5 105.0,695.5 111.3,695.5 117.5,693.0 125.0,690.0 131.3,687.0 137.5,683.8 142.5,683.3 147.5,685.5 150.0,687.5 155.0,687.5 160.0,672.5 166.3,668.8 171.3,671.3 176.3,673.8 181.3,673.8 186.3,678.8 192.5,677.5 196.3,676.3 201.3,668.0 206.3,668.8 211.3,666.3 216.3,667.0 221.3,665.5 226.3,667.5 232.5,670.0 238.8,673.0 247.5,678.0 252.5,675.0 257.5,670.5 262.5,662.5 267.5,662.0 273.8,660.5 280.0,661.3 287.5,663.8 292.5,668.8 296.3,676.3 300.0,682.5 303.8,689.5 308.8,683.8 313.8,682.5 318.8,677.5 323.8,671.3 328.8,662.0 333.8,659.5 338.8,662.0 343.8,665.0 348.8,673.8 353.8,673.0 360.0,676.8 365.0,674.5 370.0,675.8 375.0,677.0 380.0,682.0 386.3,684.5 392.5,685.8 397.5,688.0 401.3,689.5 405.0,687.5 410.0,677.5 416.3,670.0 421.3,663.0 426.3,664.5 431.3,663.8 436.3,665.5 441.3,667.0" fill="none" stroke="#52c8c0" stroke-width="1.2" stroke-linejoin="round"/>
<polyline points="2.0,682.0 5.0,673.8 10.0,667.5 15.0,664.5 20.0,664.5 25.0,665.0 31.3,665.0 37.5,667.5 43.8,668.0 50.0,667.5 53.8,668.8 60.0,677.5 65.0,685.0 71.3,686.3 77.5,682.5 83.8,678.0 90.0,675.0 95.0,677.5 101.3,686.3 107.5,693.8 113.8,695.0 120.0,693.8 125.0,691.3 131.3,688.8 137.5,686.3 143.8,684.5 150.0,685.0 155.0,681.3 161.3,676.3 167.5,672.0 173.8,671.3 180.0,673.0 186.3,675.0 192.5,677.0 198.8,675.0 205.0,670.0 211.3,667.5 217.5,666.3 222.5,665.5 227.5,667.0 232.5,668.8 238.8,672.0 245.0,675.0 251.3,677.0 257.5,675.0 262.5,670.0 267.5,666.3 272.5,663.0 277.5,661.3 282.5,661.3 287.5,662.0 292.5,665.5 297.5,668.8 300.0,676.3 305.0,683.8 311.3,685.8 317.5,682.5 323.8,676.3 330.0,668.8 335.0,662.5 340.0,662.0 345.0,665.5 350.0,669.5 356.3,673.8 362.5,675.0 368.8,675.5 375.0,677.0 380.0,679.5 386.3,682.5 392.5,685.0 398.8,687.0 403.8,688.0 408.8,686.3 413.8,681.3 418.8,672.5 423.8,666.3 428.8,664.3 433.8,664.5 438.8,665.5 441.3,667.0" fill="none" stroke="#ff5050" stroke-width="1.2" stroke-dasharray="2.4 1.6"/>
<g shape-rendering="crispEdges">
<rect x="0" y="0" width="600" height="2" fill="#b4b4b4"/>
<rect x="1" y="2" width="561" height="1" fill="#bcbcbc"/>
<rect x="1" y="3" width="561" height="1" fill="#969696"/>
<rect x="0" y="2" width="1" height="698" fill="#cfcfcf"/>
<rect x="1" y="3" width="1" height="696" fill="#8c8c8c"/>
<rect x="560" y="3" width="2" height="695" fill="#a2a2a2"/>
<rect x="1" y="539" width="561" height="3.2" fill="#9c9c9c"/>
<rect x="1" y="539.8" width="561" height="1.7" fill="#767676"/>
<rect x="1" y="591.8" width="561" height="1.3" fill="#5e5e5e"/>
<rect x="1" y="593.1" width="561" height="1.9" fill="#9a9a9a"/>
<rect x="1" y="653.9" width="561" height="1.8" fill="#a4a4a8"/>
<rect x="1" y="655.7" width="561" height="1.4" fill="#666666"/>
<rect x="1" y="695.8" width="561" height="2" fill="#7c7c7c"/>
<rect x="0" y="710.5" width="600" height="1.5" fill="#ededed"/>
</g>
<line x1="1.6" y1="180.7" x2="1.6" y2="233" stroke="#3a3a3a" stroke-width="1"/>
<rect x="1.2" y="192.8" width="1.8" height="9.4" fill="#35a064" stroke="#1f4d33" stroke-width="0.6"/>
<g font-family="'Liberation Sans', Arial, sans-serif" font-size="8.5" fill="#1a1a1a" stroke="#1a1a1a" stroke-width="0.18">
<path d="M4.2 7.6 L9.2 7.6 L6.7 11.6 Z" fill="#111"/>
<text x="12.8" y="12.8" textLength="41.8" lengthAdjust="spacingAndGlyphs">USDCAD,H4</text>
<text x="60" y="12.8" textLength="28.6" lengthAdjust="spacingAndGlyphs">1.37032</text>
<text x="92" y="12.8" textLength="28.6" lengthAdjust="spacingAndGlyphs">1.37081</text>
<text x="124" y="12.8" textLength="28.6" lengthAdjust="spacingAndGlyphs">1.36954</text>
<text x="155.6" y="12.8" textLength="28.6" lengthAdjust="spacingAndGlyphs">1.37047</text>
<text x="498.3" y="13.2" textLength="46.6" lengthAdjust="spacingAndGlyphs">MACD Sample</text>
<circle cx="553.3" cy="10.5" r="4.1" fill="none" stroke="#6c6c6c" stroke-width="1"/>
<path d="M551.2 8.4 L552.6 10 M552.6 8.4 L551.2 10 M554.0 8.4 L555.4 10 M555.4 8.4 L554.0 10" stroke="#8a4a5a" stroke-width="0.7" fill="none"/>
<path d="M551.3 12.9 Q553.3 10.9 555.3 12.9" fill="none" stroke="#7a5060" stroke-width="0.8"/>
<rect x="561.5" y="25" width="2" height="1" fill="#333"/>
<text x="565.2" y="27.7" textLength="29.4" lengthAdjust="spacingAndGlyphs">1.37865</text>
<rect x="561.5" y="56" width="2" height="1" fill="#333"/>
<text x="565.2" y="59.1" textLength="29.4" lengthAdjust="spacingAndGlyphs">1.37645</text>
<rect x="561.5" y="88" width="2" height="1" fill="#333"/>
<text x="565.2" y="90.5" textLength="29.4" lengthAdjust="spacingAndGlyphs">1.37425</text>
<rect x="561.5" y="119" width="2" height="1" fill="#333"/>
<text x="565.2" y="121.9" textLength="29.4" lengthAdjust="spacingAndGlyphs">1.37215</text>
<rect x="561.5" y="150" width="2" height="1" fill="#333"/>
<text x="565.2" y="153.3" textLength="29.4" lengthAdjust="spacingAndGlyphs">1.37000</text>
<rect x="561.5" y="182" width="2" height="1" fill="#333"/>
<text x="565.2" y="184.7" textLength="29.4" lengthAdjust="spacingAndGlyphs">1.36780</text>
<rect x="561.5" y="213" width="2" height="1" fill="#333"/>
<text x="565.2" y="216.1" textLength="29.4" lengthAdjust="spacingAndGlyphs">1.36565</text>
<rect x="561.5" y="244" width="2" height="1" fill="#333"/>
<text x="565.2" y="247.5" textLength="29.4" lengthAdjust="spacingAndGlyphs">1.36350</text>
<rect x="561.5" y="276" width="2" height="1" fill="#333"/>
<text x="565.2" y="278.9" textLength="29.4" lengthAdjust="spacingAndGlyphs">1.36135</text>
<rect x="561.5" y="307" width="2" height="1" fill="#333"/>
<text x="565.2" y="310.3" textLength="29.4" lengthAdjust="spacingAndGlyphs">1.35920</text>
<rect x="561.5" y="339" width="2" height="1" fill="#333"/>
<text x="565.2" y="341.7" textLength="29.4" lengthAdjust="spacingAndGlyphs">1.35700</text>
<rect x="561.5" y="370" width="2" height="1" fill="#333"/>
<text x="565.2" y="373.1" textLength="29.4" lengthAdjust="spacingAndGlyphs">1.35485</text>
<rect x="561.5" y="402" width="2" height="1" fill="#333"/>
<text x="565.2" y="404.5" textLength="29.4" lengthAdjust="spacingAndGlyphs">1.35270</text>
<rect x="561.5" y="433" width="2" height="1" fill="#333"/>
<text x="565.2" y="435.9" textLength="29.4" lengthAdjust="spacingAndGlyphs">1.35055</text>
<rect x="561.5" y="464" width="2" height="1" fill="#333"/>
<text x="565.2" y="467.3" textLength="29.4" lengthAdjust="spacingAndGlyphs">1.34840</text>
<rect x="561.5" y="496" width="2" height="1" fill="#333"/>
<text x="565.2" y="498.7" textLength="29.4" lengthAdjust="spacingAndGlyphs">1.34620</text>
<rect x="561.5" y="527" width="2" height="1" fill="#333"/>
<text x="565.2" y="530.1" textLength="29.4" lengthAdjust="spacingAndGlyphs">1.34400</text>
<rect x="562" y="80.8" width="35.5" height="8.8" fill="#1f9191"/>
<text x="565.2" y="88.2" fill="#ffffff" stroke="none" textLength="29.4" lengthAdjust="spacingAndGlyphs">1.37453</text>
<rect x="562" y="102.4" width="35.5" height="8.8" fill="#1f9191"/>
<text x="565.2" y="109.8" fill="#ffffff" stroke="none" textLength="29.4" lengthAdjust="spacingAndGlyphs">1.37303</text>
<rect x="562" y="124.4" width="35.5" height="8.8" fill="#1f9191"/>
<text x="565.2" y="131.8" fill="#ffffff" stroke="none" textLength="29.4" lengthAdjust="spacingAndGlyphs">1.37152</text>
<rect x="562" y="139.2" width="35.5" height="8.8" fill="#000000"/>
<text x="565.2" y="146.6" fill="#ffffff" stroke="none" textLength="29.4" lengthAdjust="spacingAndGlyphs">1.37047</text>
<rect x="562" y="182.0" width="35.5" height="8.8" fill="#ff1a1a"/>
<text x="565.2" y="189.4" fill="#ffffff" stroke="none" textLength="29.4" lengthAdjust="spacingAndGlyphs">1.36752</text>
<rect x="562" y="204.0" width="35.5" height="8.8" fill="#ff1a1a"/>
<text x="565.2" y="211.4" fill="#ffffff" stroke="none" textLength="29.4" lengthAdjust="spacingAndGlyphs">1.36601</text>
<rect x="562" y="226.0" width="35.5" height="8.8" fill="#ff1a1a"/>
<text x="565.2" y="233.4" fill="#ffffff" stroke="none" textLength="29.4" lengthAdjust="spacingAndGlyphs">1.36451</text>
<text x="4.2" y="551.6" textLength="127" lengthAdjust="spacingAndGlyphs">MACD(12,26,9) 0.001112 0.000886</text>
<text x="4" y="603.8" textLength="58" lengthAdjust="spacingAndGlyphs">RSI(14) 59.9869</text>
<text x="4" y="666.3" textLength="109" lengthAdjust="spacingAndGlyphs">Stoch(5,3,3) 72.6199 76.7353</text>
<text x="563.6" y="549.5">0.002314</text>
<text x="563.6" y="564.0">0.00</text>
<text x="563.6" y="591.0">-0.003706</text>
<text x="563.6" y="602.6">100</text>
<text x="563.6" y="616.2">70</text>
<text x="563.6" y="639.7">30</text>
<text x="563.6" y="653.3">0</text>
<text x="563.6" y="664.9">100</text>
<text x="563.6" y="668.7">80</text>
<text x="563.6" y="691.1">20</text>
<text x="563.6" y="695.0">0</text>
<text x="0.5" y="706.8" textLength="39.3" lengthAdjust="spacingAndGlyphs">4 Feb 2026</text>
<text x="62.5" y="706.8" textLength="42" lengthAdjust="spacingAndGlyphs">6 Feb 12:00</text>
<text x="124.3" y="706.8" textLength="47.4" lengthAdjust="spacingAndGlyphs">10 Feb 08:00</text>
<text x="185.4" y="706.8" textLength="47.4" lengthAdjust="spacingAndGlyphs">12 Feb 08:00</text>
<text x="247" y="706.8" textLength="47.4" lengthAdjust="spacingAndGlyphs">16 Feb 04:00</text>
<text x="308.6" y="706.8" textLength="47.4" lengthAdjust="spacingAndGlyphs">18 Feb 04:00</text>
<text x="370.3" y="706.8" textLength="47.4" lengthAdjust="spacingAndGlyphs">20 Feb 04:00</text>
<text x="430.8" y="706.8" textLength="47.4" lengthAdjust="spacingAndGlyphs">24 Feb 00:00</text>
</g>
<g shape-rendering="crispEdges">
<rect x="2" y="697" width="1" height="2" fill="#444"/>
<rect x="62" y="697" width="1" height="2" fill="#444"/>
<rect x="124" y="697" width="1" height="2" fill="#444"/>
<rect x="186" y="697" width="1" height="2" fill="#444"/>
<rect x="248" y="697" width="1" height="2" fill="#444"/>
<rect x="308" y="697" width="1" height="2" fill="#444"/>
<rect x="370" y="697" width="1" height="2" fill="#444"/>
<rect x="432" y="697" width="1" height="2" fill="#444"/>
</g>
</g>
</svg>
</body></html>
